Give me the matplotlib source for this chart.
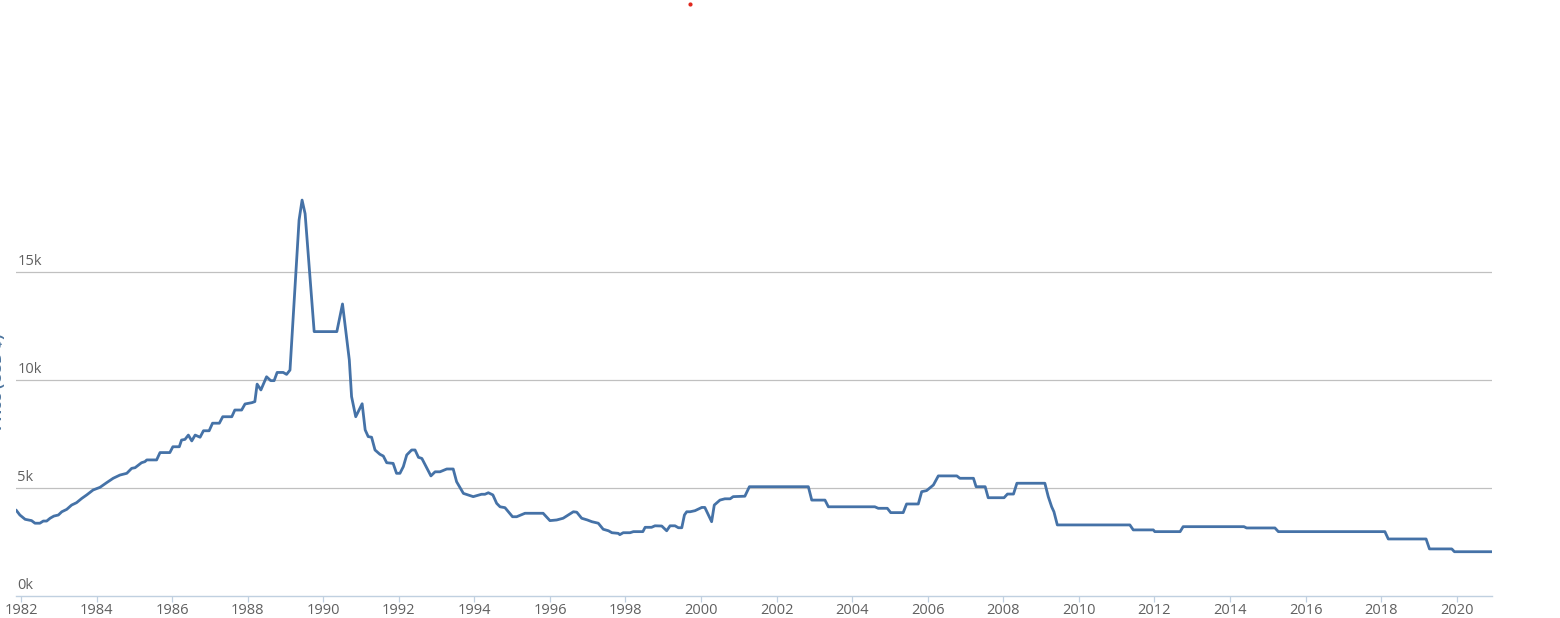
import matplotlib
matplotlib.use("Agg")
import matplotlib.pyplot as plt
from matplotlib.lines import Line2D
import matplotlib.transforms as mtransforms

# ---- data (decimal year, price in thousands USD) ----
years = [
    1981.87, 1981.97, 1982.11, 1982.28, 1982.37, 1982.50, 1982.59, 1982.68, 1982.77, 1982.87,
    1982.99, 1983.08, 1983.21, 1983.34, 1983.47, 1983.61, 1983.74, 1983.91, 1984.09, 1984.27,
    1984.44, 1984.62, 1984.80, 1984.93, 1985.02, 1985.19, 1985.28, 1985.33, 1985.59, 1985.68,
    1985.94, 1986.02, 1986.19, 1986.25, 1986.34, 1986.43, 1986.52, 1986.61, 1986.74, 1986.83,
    1986.98, 1987.07, 1987.25, 1987.34, 1987.58, 1987.66, 1987.84, 1987.93, 1988.11, 1988.19,
    1988.25, 1988.35, 1988.50, 1988.61, 1988.70, 1988.78, 1988.94, 1989.03, 1989.12, 1989.36,
    1989.44, 1989.52, 1989.76, 1990.36, 1990.51, 1990.69, 1990.75, 1990.86, 1991.03, 1991.11,
    1991.19, 1991.28, 1991.37, 1991.50, 1991.59, 1991.68, 1991.85, 1991.94, 1992.03, 1992.12,
    1992.21, 1992.34, 1992.43, 1992.52, 1992.61, 1992.85, 1992.96, 1993.09, 1993.27, 1993.44,
    1993.53, 1993.71, 1993.97, 1994.19, 1994.28, 1994.37, 1994.49, 1994.59, 1994.68, 1994.81,
    1995.01, 1995.12, 1995.34, 1995.82, 1996.00, 1996.18, 1996.35, 1996.62, 1996.71, 1996.84,
    1996.99, 1997.11, 1997.28, 1997.41, 1997.55, 1997.64, 1997.81, 1997.85, 1997.94, 1998.12,
    1998.21, 1998.46, 1998.52, 1998.69, 1998.78, 1998.96, 1999.09, 1999.18, 1999.31, 1999.40,
    1999.49, 1999.56, 1999.62, 1999.71, 1999.84, 2000.02, 2000.10, 2000.28, 2000.35, 2000.50,
    2000.63, 2000.77, 2000.85, 2001.16, 2001.28, 2002.84, 2002.93, 2003.28, 2003.37, 2004.60,
    2004.69, 2004.93, 2005.02, 2005.35, 2005.44, 2005.75, 2005.84, 2005.97, 2006.15, 2006.28,
    2006.77, 2006.85, 2007.21, 2007.28, 2007.52, 2007.60, 2008.02, 2008.11, 2008.27, 2008.36,
    2009.10, 2009.19, 2009.28, 2009.34, 2009.43, 2011.35, 2011.44, 2011.97, 2012.01, 2012.68,
    2012.76, 2014.37, 2014.44, 2015.19, 2015.28, 2018.10, 2018.19, 2019.19, 2019.28, 2019.87,
    2019.94, 2020.93,
]
prices_k = [
    3.98, 3.75, 3.55, 3.49, 3.37, 3.37, 3.47, 3.47, 3.60, 3.70,
    3.75, 3.90, 4.01, 4.21, 4.32, 4.52, 4.68, 4.91, 5.03, 5.25,
    5.45, 5.60, 5.68, 5.91, 5.94, 6.17, 6.22, 6.30, 6.30, 6.64,
    6.64, 6.91, 6.91, 7.22, 7.25, 7.45, 7.18, 7.45, 7.35, 7.65,
    7.65, 8.00, 8.00, 8.30, 8.30, 8.61, 8.61, 8.89, 8.95, 9.00,
    9.81, 9.54, 10.15, 9.97, 9.97, 10.35, 10.35, 10.26, 10.46, 17.40,
    18.33, 17.70, 12.24, 12.24, 13.52, 10.93, 9.23, 8.30, 8.90, 7.69,
    7.38, 7.35, 6.76, 6.56, 6.48, 6.17, 6.14, 5.68, 5.68, 5.99,
    6.53, 6.76, 6.76, 6.42, 6.37, 5.56, 5.75, 5.75, 5.88, 5.88,
    5.29, 4.75, 4.60, 4.71, 4.71, 4.78, 4.68, 4.29, 4.13, 4.09,
    3.67, 3.67, 3.83, 3.83, 3.49, 3.52, 3.60, 3.90, 3.88, 3.60,
    3.52, 3.44, 3.37, 3.09, 3.02, 2.93, 2.90, 2.84, 2.93, 2.93,
    2.98, 2.98, 3.18, 3.18, 3.25, 3.24, 3.02, 3.25, 3.25, 3.16,
    3.16, 3.75, 3.90, 3.90, 3.95, 4.10, 4.10, 3.44, 4.21, 4.44,
    4.50, 4.50, 4.60, 4.62, 5.06, 5.06, 4.44, 4.44, 4.13, 4.13,
    4.06, 4.06, 3.86, 3.86, 4.26, 4.26, 4.83, 4.88, 5.14, 5.56,
    5.56, 5.45, 5.45, 5.06, 5.06, 4.55, 4.55, 4.72, 4.72, 5.22,
    5.22, 4.60, 4.13, 3.90, 3.29, 3.29, 3.06, 3.06, 2.98, 2.98,
    3.21, 3.21, 3.15, 3.15, 2.98, 2.98, 2.64, 2.64, 2.18, 2.18,
    2.05, 2.05,
]
prices = [p * 1000 for p in prices_k]

x_ticks = list(range(1982, 2021, 2))
x_tick_labels = [str(y) for y in x_ticks]
y_ticks = [0, 5000, 10000, 15000]
y_tick_labels = ["0k", "5k", "10k", "15k"]
y_title = "Price (USD $)"

# ---- figure ----
W, H = 1560, 618
fig = plt.figure(figsize=(W / 100, H / 100), dpi=100)
fig.patch.set_facecolor("white")

left_px, right_px, bottom_px, top_px = 16, 1492, 596, 164
ax = fig.add_axes([left_px / W, 1 - bottom_px / H,
                   (right_px - left_px) / W, (bottom_px - top_px) / H])
ax.set_facecolor("none")

ax.plot(years, prices, color="#4572A7", lw=2.0, solid_joinstyle="round",
        solid_capstyle="round", zorder=3)

ax.set_xlim(1981.868, 2020.935)
ax.set_ylim(0, 20000)

for s in ["top", "right", "left"]:
    ax.spines[s].set_visible(False)
ax.spines["bottom"].set_color("#C0D0E0")
ax.spines["bottom"].set_linewidth(1.0)
ax.spines["bottom"].set_zorder(4)

# gridlines
for yv in y_ticks[1:]:
    ax.axhline(yv, color="#C0C0C0", lw=0.9, zorder=1)

ax.set_xticks(x_ticks)
ax.set_xticklabels(x_tick_labels, fontsize=10.5, color="#606060",
                   fontfamily="Open Sans")
ax.tick_params(axis="x", direction="out", length=4.5, width=0.9,
               color="#C0D0E0", pad=0.3)
ax.set_yticks([])

# y tick labels: left-aligned, sitting just above each gridline
for yv, lab in zip(y_ticks, y_tick_labels):
    ax.text(0.0, yv, lab, transform=mtransforms.offset_copy(
        ax.get_yaxis_transform(), fig=fig, x=1.0, y=2.5, units="points"),
        ha="left", va="bottom", fontsize=10.5, color="#606060",
        fontfamily="Open Sans")

# y axis title (mostly cut off on the left edge, as in the original)
fig.text(-1.5 / W, 1 - 382 / H, y_title, rotation=90, ha="center",
         va="center", fontsize=11, fontweight="bold", color="#4d759e",
         fontfamily="Open Sans")

# small red dot at the top
fig.add_artist(Line2D([690 / W], [1 - 4 / H], marker="o", markersize=3,
                      color="#e0281e", markeredgewidth=0,
                      transform=fig.transFigure))

fig.savefig("out.png", dpi=100, facecolor="white")
